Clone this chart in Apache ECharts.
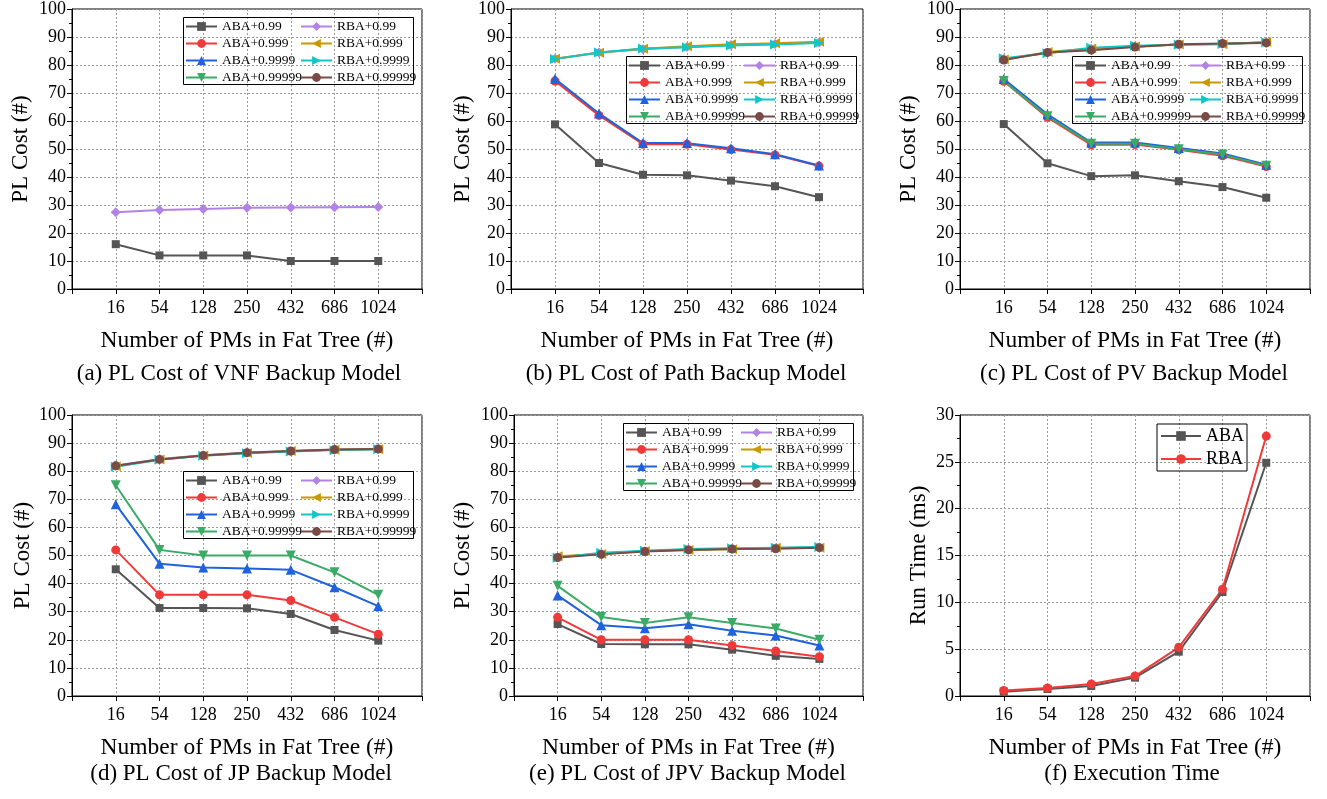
<!DOCTYPE html>
<html>
<head>
<meta charset="utf-8">
<script src="https://cdn.jsdelivr.net/npm/echarts@6/dist/echarts.min.js"></script>
<style>
html,body{margin:0;padding:0;background:#fff;}
#chart{width:1327px;height:799px;}
</style>
</head>
<body>
<div id="chart"></div>
<script>
// ---------------- data ----------------
const categories = ['16', '54', '128', '250', '432', '686', '1024'];
const seriesNames = ['ABA+0.99', 'ABA+0.999', 'ABA+0.9999', 'ABA+0.99999',
                     'RBA+0.99', 'RBA+0.999', 'RBA+0.9999', 'RBA+0.99999'];
const timeNames = ['ABA', 'RBA'];
const captions = ['(a) PL Cost of VNF Backup Model', '(b) PL Cost of Path Backup Model',
                  '(c) PL Cost of PV Backup Model', '(d) PL Cost of JP Backup Model',
                  '(e) PL Cost of JPV Backup Model', '(f) Execution Time'];
const xAxisTitle = 'Number of PMs in Fat Tree (#)';
const costAxisTitle = 'PL Cost (#)';
const timeAxisTitle = 'Run Time (ms)';

// (a) VNF backup model
const a_ABA099 = [16, 12, 12, 12, 10, 10, 10];
const a_RBA099 = [27.4, 28.2, 28.6, 29.0, 29.1, 29.2, 29.3];

// (b) Path backup model
const b_ABA099 = [58.8, 45.0, 40.8, 40.6, 38.7, 36.7, 32.8];
const b_ABA0999 = [74.3, 62.0, 51.7, 51.7, 49.8, 47.9, 43.9];
const b_ABA09999 = [75.1, 62.7, 52.1, 52.1, 50.3, 48.1, 44.1];
const b_RBA099 = [82.2, 84.5, 85.6, 86.4, 87.1, 87.5, 88.0];
const b_RBA0999 = [82.2, 84.4, 85.8, 86.7, 87.4, 87.8, 88.3];
const b_RBA09999 = [82.1, 84.5, 85.9, 86.3, 87.0, 87.3, 87.9];

// (c) PV backup model
const c_ABA099 = [58.9, 44.9, 40.3, 40.6, 38.5, 36.4, 32.6];
const c_ABA0999 = [74.2, 61.3, 51.5, 51.6, 49.7, 47.6, 43.7];
const c_ABA09999 = [75.0, 62.4, 52.3, 52.3, 50.4, 48.4, 44.4];
const c_ABA099999 = [74.3, 61.7, 51.9, 51.9, 49.9, 48.0, 44.0];
const c_RBA099 = [82.1, 84.4, 85.8, 86.6, 87.3, 87.6, 88.0];
const c_RBA0999 = [82.0, 84.6, 85.9, 86.6, 87.3, 87.4, 88.2];
const c_RBA09999 = [82.4, 84.2, 86.2, 86.9, 87.2, 87.5, 88.1];
const c_RBA099999 = [81.8, 84.5, 85.3, 86.4, 87.4, 87.7, 87.9];

// (d) JP backup model
const d_ABA099 = [45.1, 31.3, 31.3, 31.2, 29.2, 23.5, 19.7];
const d_ABA0999 = [52, 36, 36, 36, 34, 28, 22];
const d_ABA09999 = [68.2, 47.1, 45.7, 45.4, 44.9, 38.7, 32.0];
const d_ABA099999 = [75, 52, 50, 50, 50, 44, 36];
const d_RBA099 = [82.0, 84.3, 85.7, 86.7, 87.1, 87.6, 87.9];
const d_RBA0999 = [81.8, 84.2, 85.6, 86.5, 87.2, 87.6, 87.8];
const d_RBA09999 = [81.6, 84.1, 85.5, 86.4, 87.0, 87.5, 87.8];
const d_RBA099999 = [81.9, 84.2, 85.6, 86.6, 87.2, 87.7, 87.9];

// (e) JPV backup model
const e_ABA099 = [25.6, 18.5, 18.4, 18.4, 16.5, 14.3, 13.2];
const e_ABA0999 = [28, 20, 20, 20, 18, 16, 14];
const e_ABA09999 = [35.8, 25.2, 24.1, 25.5, 23.2, 21.5, 18.0];
const e_ABA099999 = [39.2, 28.1, 26.0, 28.0, 26.0, 24.0, 20.0];
const e_RBA099 = [49.5, 50.6, 51.5, 52.1, 52.4, 52.6, 52.9];
const e_RBA0999 = [49.7, 50.5, 51.6, 52.0, 52.2, 52.8, 52.8];
const e_RBA09999 = [49.2, 51.0, 51.7, 52.3, 52.6, 52.8, 53.0];
const e_RBA099999 = [49.3, 50.4, 51.4, 52.0, 52.3, 52.4, 52.8];

// (f) execution time
const f_ABA = [0.46, 0.75, 1.07, 1.96, 4.73, 11.1, 24.9];
const f_RBA = [0.60, 0.85, 1.28, 2.13, 5.20, 11.4, 27.75];

// ---------------- styles ----------------
const FONT = "'Liberation Serif', 'Times New Roman', serif";
const styleOf = {
  'ABA+0.99':    {color: '#555555', symbol: 'rect', rot: 0, size: 8},
  'ABA+0.999':   {color: '#f03a3a', symbol: 'circle', rot: 0, size: 9},
  'ABA+0.9999':  {color: '#1f62dd', symbol: 'triangle', rot: 0, size: 10},
  'ABA+0.99999': {color: '#3aab67', symbol: 'triangle', rot: 180, size: 10},
  'RBA+0.99':    {color: '#b283e6', symbol: 'diamond', rot: 0, size: 10},
  'RBA+0.999':   {color: '#c99a00', symbol: 'triangle', rot: 90, size: 10},
  'RBA+0.9999':  {color: '#12c6c6', symbol: 'triangle', rot: -90, size: 10},
  'RBA+0.99999': {color: '#7a4a45', symbol: 'circle', rot: 0, size: 9},
  'ABA':         {color: '#555555', symbol: 'rect', rot: 0, size: 8},
  'RBA':         {color: '#f03a3a', symbol: 'circle', rot: 0, size: 9}
};

const panels = [
  {grid: {left: 72, top: 8, width: 350, height: 281}, ymax: 100, yint: 10, yname: costAxisTitle, nameGap: 40,
   captionY: 357, captionDx: -13,
   series: [['ABA+0.99', a_ABA099], ['ABA+0.999', []], ['ABA+0.9999', []], ['ABA+0.99999', []],
            ['RBA+0.99', a_RBA099], ['RBA+0.999', []], ['RBA+0.9999', []], ['RBA+0.99999', []]],
   legend: {left: 183, top: 17}},
  {grid: {left: 511, top: 8, width: 352, height: 281}, ymax: 100, yint: 10, yname: costAxisTitle, nameGap: 37,
   captionY: 357, captionDx: -6,
   series: [['ABA+0.99', b_ABA099], ['ABA+0.99999', []], ['ABA+0.999', b_ABA0999], ['ABA+0.9999', b_ABA09999],
            ['RBA+0.99999', []], ['RBA+0.99', b_RBA099], ['RBA+0.999', b_RBA0999], ['RBA+0.9999', b_RBA09999]],
   legend: {left: 626, top: 56}},
  {grid: {left: 960, top: 8, width: 350, height: 281}, ymax: 100, yint: 10, yname: costAxisTitle, nameGap: 40,
   captionY: 357, captionDx: -6,
   series: [['ABA+0.99', c_ABA099], ['ABA+0.999', c_ABA0999], ['ABA+0.9999', c_ABA09999], ['ABA+0.99999', c_ABA099999],
            ['RBA+0.99', c_RBA099], ['RBA+0.999', c_RBA0999], ['RBA+0.9999', c_RBA09999], ['RBA+0.99999', c_RBA099999]],
   legend: {left: 1072, top: 56}},
  {grid: {left: 72, top: 415, width: 350, height: 281}, ymax: 100, yint: 10, yname: costAxisTitle, nameGap: 38,
   captionY: 757, captionDx: -11,
   series: [['RBA+0.99', d_RBA099], ['RBA+0.999', d_RBA0999], ['RBA+0.9999', d_RBA09999], ['RBA+0.99999', d_RBA099999],
            ['ABA+0.99', d_ABA099], ['ABA+0.999', d_ABA0999], ['ABA+0.9999', d_ABA09999], ['ABA+0.99999', d_ABA099999]],
   legend: {left: 183, top: 471}},
  {grid: {left: 514, top: 415, width: 349, height: 281}, ymax: 100, yint: 10, yname: costAxisTitle, nameGap: 40,
   captionY: 757, captionDx: -6,
   series: [['RBA+0.99', e_RBA099], ['RBA+0.999', e_RBA0999], ['RBA+0.9999', e_RBA09999], ['RBA+0.99999', e_RBA099999],
            ['ABA+0.99', e_ABA099], ['ABA+0.999', e_ABA0999], ['ABA+0.9999', e_ABA09999], ['ABA+0.99999', e_ABA099999]],
   legend: {left: 623, top: 423}},
  {grid: {left: 960, top: 415, width: 350, height: 281}, ymax: 30, yint: 5, yname: timeAxisTitle, nameGap: 30,
   captionY: 757, captionDx: -8,
   series: [['ABA', f_ABA], ['RBA', f_RBA]],
   legend: {left: 1157, top: 424}, timeLegend: true}
];

const option = {
  backgroundColor: '#fff',
  animation: false,
  textStyle: {fontFamily: FONT, color: '#000'},
  grid: [], xAxis: [], yAxis: [], series: [], legend: [], title: [], graphic: []
};

const LEG_W = 230, LEG_H = 67;

panels.forEach((p, i) => {
  option.grid.push(Object.assign({show: true, borderColor: '#000', borderWidth: 1, backgroundColor: 'transparent'}, p.grid));
  option.xAxis.push({
    type: 'value', gridIndex: i, min: 0, max: categories.length + 1, interval: 1,
    name: xAxisTitle, nameLocation: 'middle', nameGap: 40,
    nameTextStyle: {fontFamily: FONT, fontSize: 23.5, color: '#000'},
    axisLine: {show: true, lineStyle: {color: '#000', width: 1}},
    axisTick: {show: true, inside: false, length: 5, lineStyle: {color: '#000'}},
    minorTick: {show: false},
    axisLabel: {show: true, fontFamily: FONT, fontSize: 18, color: '#000', margin: 10,
      formatter: v => categories[Math.round(v) - 1] || ''},
    splitLine: {show: true, lineStyle: {color: '#9a9a9a', type: [2, 2], width: 1}}
  });
  option.yAxis.push({
    type: 'value', gridIndex: i, min: 0, max: p.ymax, interval: p.yint,
    name: p.yname, nameLocation: 'middle', nameGap: p.nameGap,
    nameTextStyle: {fontFamily: FONT, fontSize: 23, color: '#000'},
    axisLine: {show: true, lineStyle: {color: '#000', width: 1}},
    axisTick: {show: true, inside: false, length: 5, lineStyle: {color: '#000'}},
    minorTick: {show: true, splitNumber: 2, length: 3, lineStyle: {color: '#000'}},
    axisLabel: {show: true, fontFamily: FONT, fontSize: 18, color: '#000', margin: 6},
    splitLine: {show: true, lineStyle: {color: '#9a9a9a', type: [2, 2], width: 1}}
  });
  p.series.forEach(([name, vals]) => {
    const st = styleOf[name];
    option.series.push({
      type: 'line', name: name, xAxisIndex: i, yAxisIndex: i,
      data: vals.map((v, k) => [k + 1, v]),
      symbol: st.symbol, symbolSize: st.size, symbolRotate: st.rot,
      showSymbol: true,
      lineStyle: {color: st.color, width: 2},
      itemStyle: {color: st.color},
      emphasis: {disabled: true}
    });
  });
  if (p.timeLegend) {
    option.legend.push({
      left: p.legend.left, top: p.legend.top, orient: 'vertical',
      data: timeNames, itemWidth: 40, itemHeight: 12, itemGap: 5,
      padding: [3, 3, 3, 3], borderColor: '#000', borderWidth: 1,
      textStyle: {fontFamily: FONT, fontSize: 18, color: '#000'},
      selectedMode: false
    });
  } else {
    const L = p.legend.left, T = p.legend.top;
    const common = {
      orient: 'vertical', itemWidth: 31, itemHeight: 11, itemGap: 2, padding: 0,
      textStyle: {fontFamily: FONT, fontSize: 13.5, color: '#000', lineHeight: 15},
      selectedMode: false
    };
    option.legend.push(Object.assign({left: L + 2, top: T + 2, data: seriesNames.slice(0, 4)}, common));
    option.legend.push(Object.assign({left: L + 117, top: T + 2, data: seriesNames.slice(4)}, common));
    option.graphic.push({
      type: 'rect', silent: true, z: 100,
      shape: {x: L + 0.5, y: T + 0.5, width: LEG_W, height: LEG_H},
      style: {fill: 'none', stroke: '#000', lineWidth: 1}
    });
  }
  option.title.push({
    text: captions[i],
    left: p.grid.left + p.grid.width / 2 + p.captionDx, top: p.captionY, textAlign: 'center',
    textStyle: {fontFamily: FONT, fontSize: 23, fontWeight: 'normal', color: '#000'}
  });
});

const chart = echarts.init(document.getElementById('chart'), null, {renderer: 'canvas'});
chart.setOption(option);
</script>
</body>
</html>
